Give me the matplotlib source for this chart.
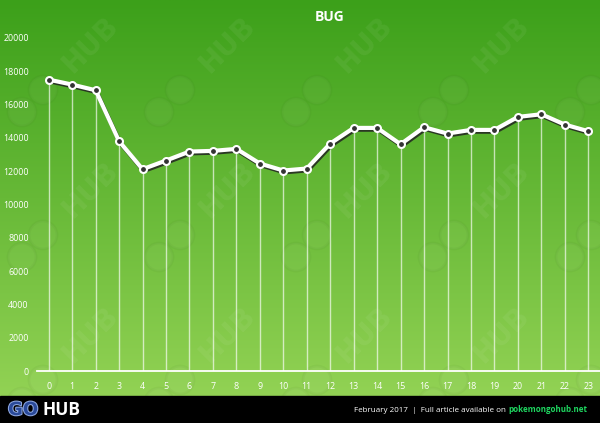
import matplotlib
matplotlib.use("Agg")
import matplotlib.pyplot as plt
import matplotlib.patheffects as pe
from matplotlib.patches import Circle
import numpy as np

hours = list(range(24))
spawns = [17500, 17200, 16860, 13800, 12120, 12640, 13180, 13220, 13340, 12460,
          12040, 12160, 13660, 14600, 14600, 13620, 14640, 14260, 14480, 14480,
          15260, 15420, 14800, 14400]
y_ticks = [0, 2000, 4000, 6000, 8000, 10000, 12000, 14000, 16000, 18000, 20000]
title = "BUG"
footer_text = "February 2017  |  Full article available on "
footer_link = "pokemongohub.net"

W, H = 600, 423
fig = plt.figure(figsize=(W / 100, H / 100), dpi=100)

# green gradient background + black footer
bg = fig.add_axes([0, 0, 1, 1])
bg.set_xlim(0, W)
bg.set_ylim(H, 0)
bg.axis("off")
top = np.array([60, 160, 26]) / 255
bottom = np.array([146, 210, 84]) / 255
t = np.linspace(0, 1, 256)[:, None]
grad = top + (bottom - top) * t
grad = np.repeat(grad[:, None, :], 2, axis=1)
bg.imshow(grad, extent=[0, W, 396, 0], aspect="auto", zorder=0)
bg.add_patch(plt.Rectangle((0, 396), W, H - 396, color="black", zorder=5))

# faint GO HUB watermarks
for wy in [45, 190, 335]:
    for wx in [90, 227, 364, 501]:
        bg.text(wx, wy, "HUB", rotation=45, fontsize=20, fontweight="bold",
                color="white", alpha=0.06, ha="center", va="center", zorder=2)
    for wx in [90, 227, 364, 501, 638]:
        for cx, cy in [(wx - 47, wy + 45), (wx - 68, wy + 67)]:
            bg.add_patch(Circle((cx, cy), 14, fill=False, lw=2,
                                ec=(0.2, 0.35, 0.1), alpha=0.05, zorder=2))
            bg.add_patch(Circle((cx, cy), 14, fill=True, lw=0,
                                fc="white", alpha=0.035, zorder=2))

# chart axes
ax = fig.add_axes([37 / W, (H - 371) / H, (W - 37) / W, 333 / H])
ax.patch.set_alpha(0)
ax.set_xlim(-0.5, 23.5)
ax.set_ylim(0, 20000)
for s in ["top", "right", "left"]:
    ax.spines[s].set_visible(False)
ax.spines["bottom"].set_color("white")
ax.spines["bottom"].set_linewidth(1.3)
ax.set_xticks(hours)
ax.set_yticks(y_ticks)
ax.tick_params(length=0, colors="white", labelsize=6.4)
ax.tick_params(axis="x", pad=8)
ax.tick_params(axis="y", pad=6)
for lab in ax.get_xticklabels() + ax.get_yticklabels():
    lab.set_fontfamily("Open Sans")

ax.vlines(hours, 0, spawns, color="white", lw=1, alpha=0.65, zorder=2)
ax.plot(hours, spawns, color="white", lw=3, zorder=3,
        path_effects=[pe.SimpleLineShadow(offset=(0.8, -1.3), shadow_color="#222222", alpha=0.85),
                      pe.Normal()])
ax.plot(hours, spawns, ls="none", marker="o", ms=5, mfc="#333333", mec="white",
        mew=1.5, zorder=4)

fig.text(330 / W, 1 - 17 / H, title, color="white", fontsize=10, fontweight="bold",
         family="Open Sans", ha="center", va="center")

# footer
bg.text(8, 410, "GO", fontsize=13, fontweight="bold", color="#2a4a9a", ha="left",
        va="center", zorder=6,
        path_effects=[pe.withStroke(linewidth=1.5, foreground="#8fa8e0")])
bg.text(43, 410, "HUB", fontsize=12.5, fontweight="bold", color="white", ha="left",
        va="center", family="Open Sans", zorder=6)
link = bg.text(587, 412, footer_link, fontsize=5.8, fontweight="bold", color="#1ed760",
               ha="right", va="baseline", family="Open Sans", zorder=6)
fig.canvas.draw()
bb = link.get_window_extent()
x_left = bg.transData.inverted().transform((bb.x0, bb.y0))[0]
bg.text(x_left, 412, footer_text, fontsize=5.8, color="white", ha="right", va="baseline",
        family="Open Sans", zorder=6)

fig.savefig("out.png", dpi=100)
